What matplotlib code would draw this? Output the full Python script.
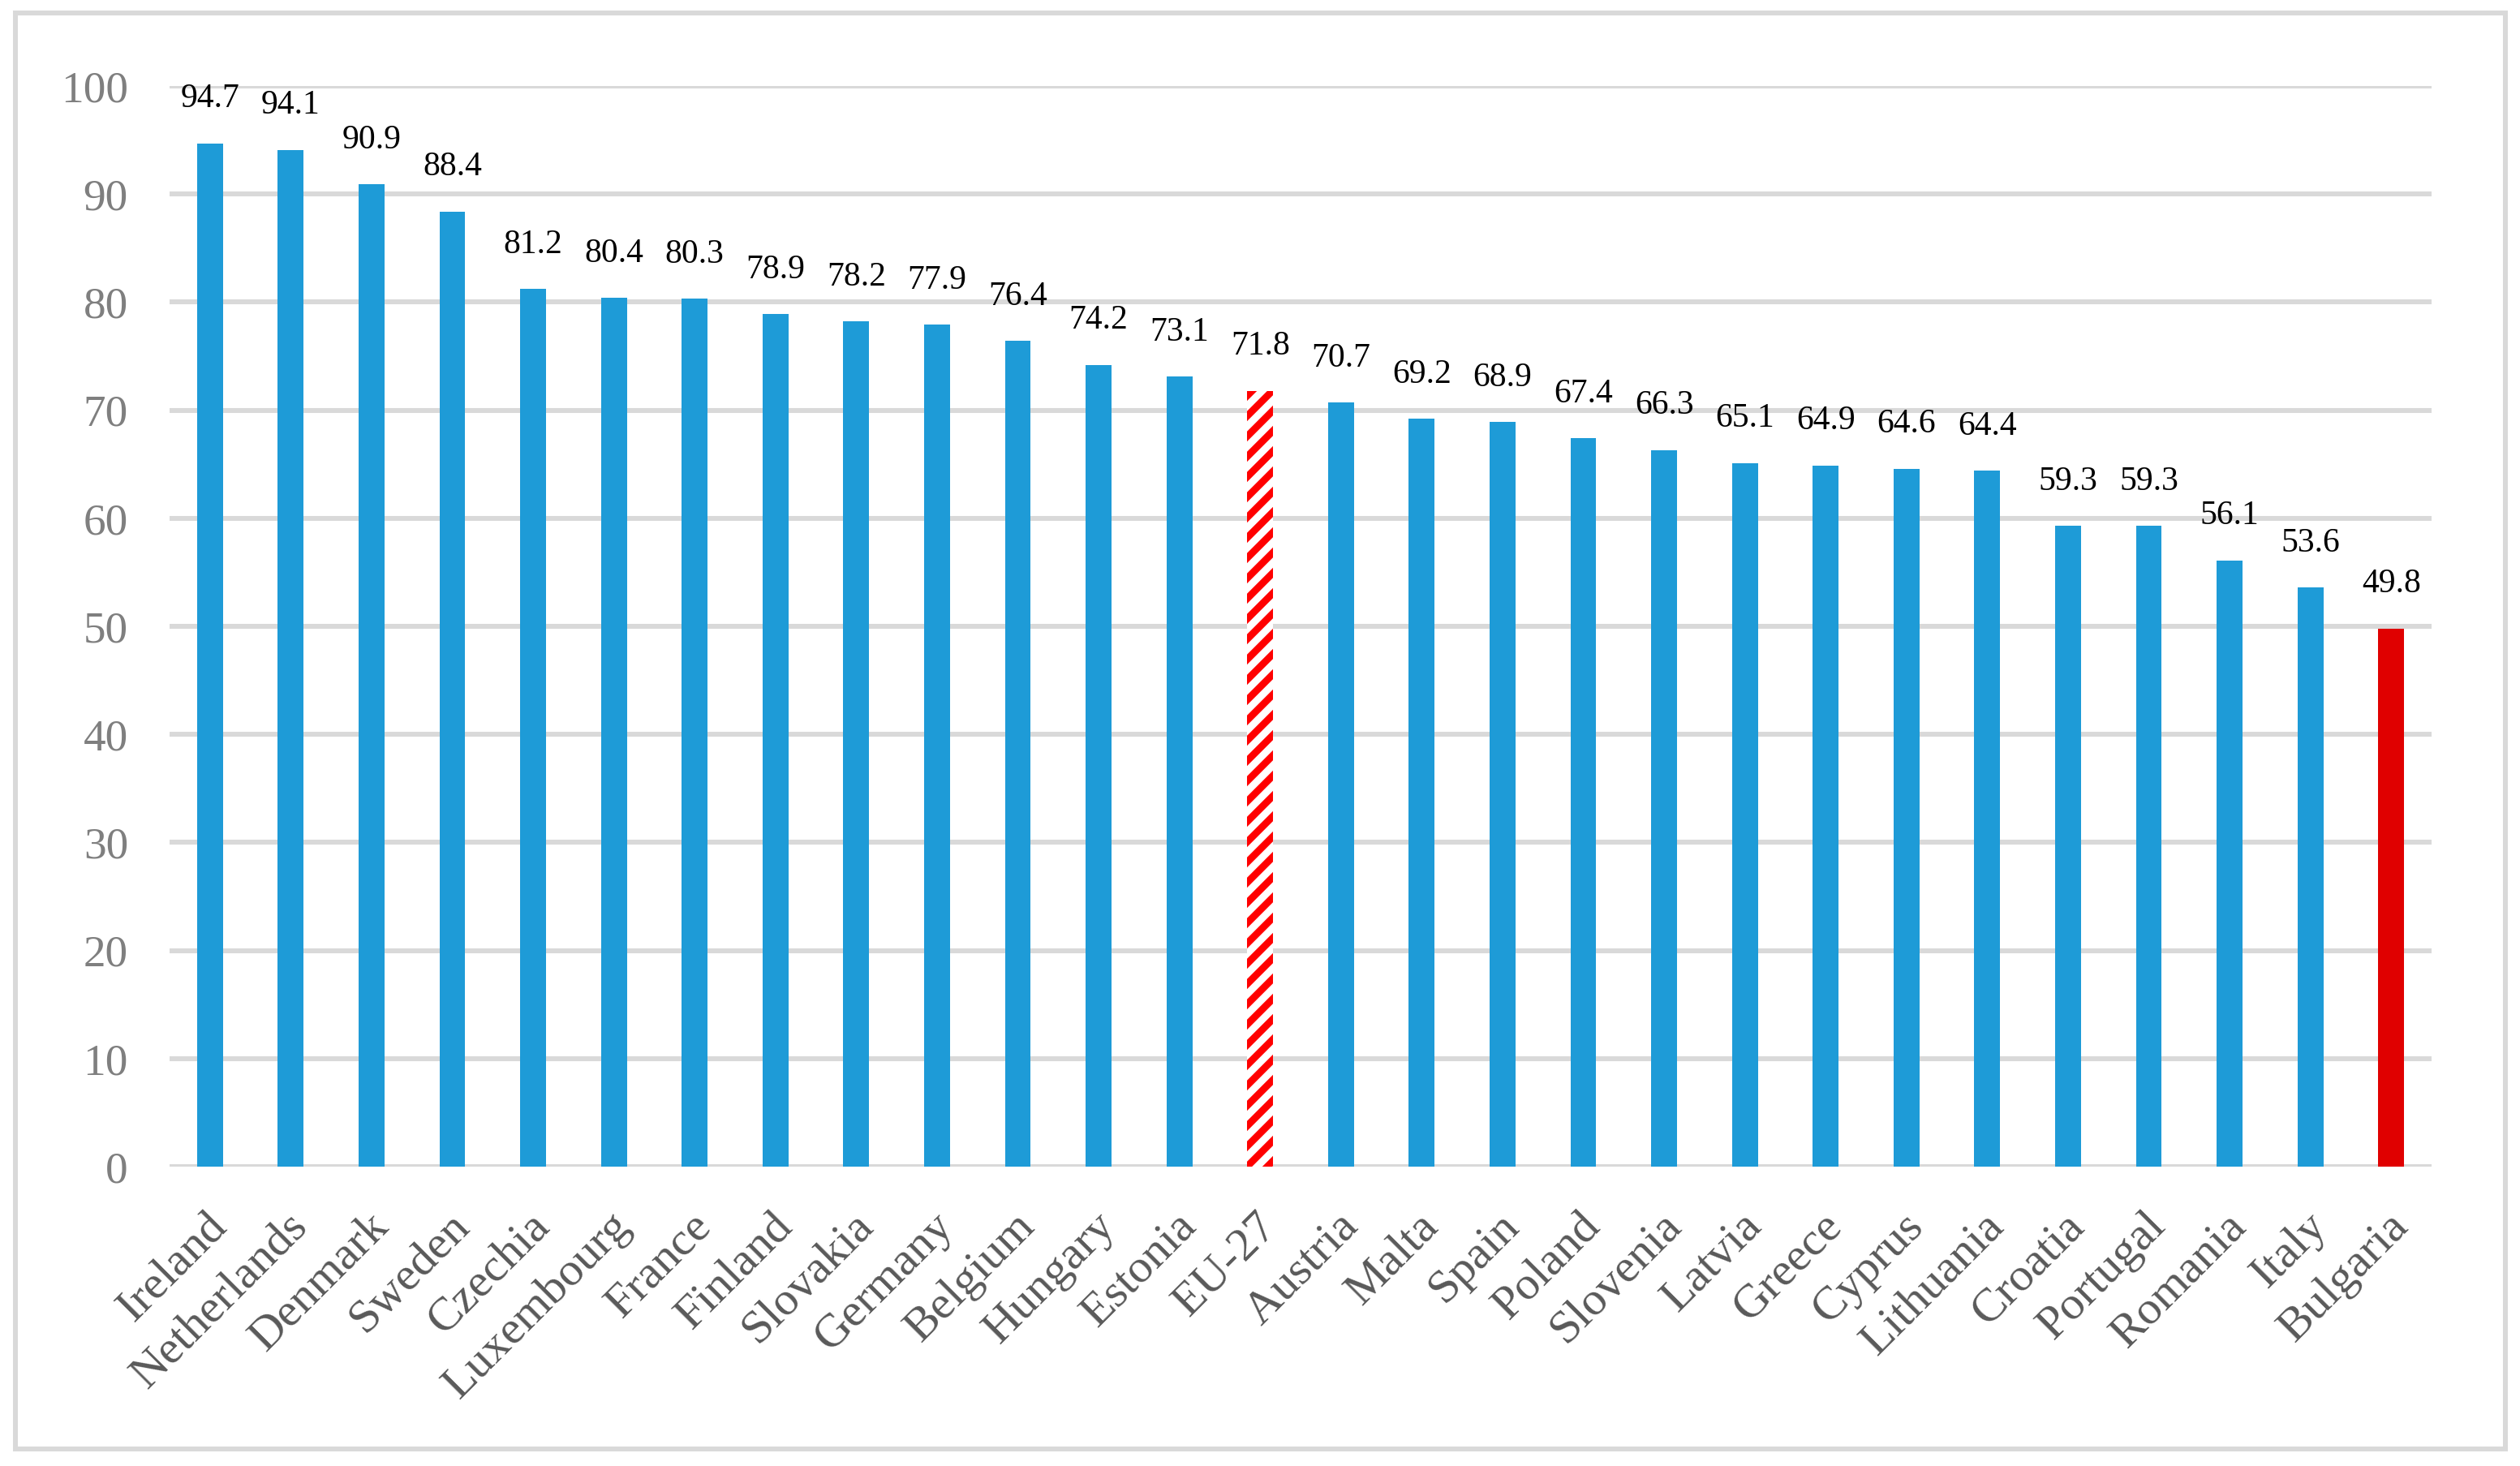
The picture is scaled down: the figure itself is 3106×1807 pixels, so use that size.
import matplotlib.pyplot as plt
from matplotlib.patches import Rectangle
from matplotlib.transforms import ScaledTranslation

# Données
pays = ["Ireland", "Netherlands", "Denmark", "Sweden", "Czechia", "Luxembourg",
        "France", "Finland", "Slovakia", "Germany", "Belgium", "Hungary",
        "Estonia", "EU-27", "Austria", "Malta", "Spain", "Poland", "Slovenia",
        "Latvia", "Greece", "Cyprus", "Lithuania", "Croatia", "Portugal",
        "Romania", "Italy", "Bulgaria"]
valeurs = [94.7, 94.1, 90.9, 88.4, 81.2, 80.4, 80.3, 78.9, 78.2, 77.9, 76.4,
           74.2, 73.1, 71.8, 70.7, 69.2, 68.9, 67.4, 66.3, 65.1, 64.9, 64.6,
           64.4, 59.3, 59.3, 56.1, 53.6, 49.8]
yticks = list(range(0, 101, 10))

bleu = "#1E9BD7"
rouge = "#E00000"
gris = "#D9D9D9"

plt.rcParams["hatch.linewidth"] = 4.2

dpi = 150
fig = plt.figure(figsize=(3106 / dpi, 1807 / dpi), dpi=dpi)
ax = fig.add_axes([209 / 3106, 369 / 1807, (2997 - 209) / 3106, (1438 - 106) / 1807])

x = list(range(len(pays)))
barres = ax.bar(x, valeurs, width=0.32, color=bleu, zorder=3)
for b, p in zip(barres, pays):
    if p == "EU-27":
        b.set_facecolor("white")
        b.set_edgecolor("#FF0000")
        b.set_hatch("//")
        b.set_linewidth(0)
    elif p == "Bulgaria":
        b.set_facecolor(rouge)

# étiquettes de valeur
for xi, v in zip(x, valeurs):
    ax.annotate(f"{v:.1f}", (xi, v), xytext=(0, 17), textcoords="offset points",
                ha="center", va="bottom", fontsize=20, family="Liberation Serif",
                color="black")

ax.set_xlim(-0.5, len(pays) - 0.5)
ax.set_ylim(0, 100)
ax.set_yticks(yticks)
ax.set_yticklabels([str(t) for t in yticks], family="Liberation Serif",
                   fontsize=26.5, color="#7F7F7F")
ax.tick_params(axis="y", length=0, pad=24.5)
ax.grid(axis="y", color=gris, linewidth=2.9, zorder=0)
ax.set_axisbelow(True)
for s in ax.spines.values():
    s.set_visible(False)

ax.set_xticks(x)
ax.set_xticklabels(pays, rotation=45, ha="right", va="top", rotation_mode="anchor",
                   family="Liberation Serif", fontsize=28, color="#595959")
ax.tick_params(axis="x", length=0, pad=22.5)
decalage = ScaledTranslation(-6 / dpi, 0, fig.dpi_scale_trans)
for lab in ax.get_xticklabels():
    lab.set_transform(lab.get_transform() + decalage)

# cadre extérieur
fig.patches.append(Rectangle((18.5 / 3106, 1 - 1786 / 1807), (3088 - 18.5) / 3106,
                             (1786 - 16) / 1807, transform=fig.transFigure,
                             fill=False, edgecolor=gris, linewidth=2.9))

fig.savefig("out.png", dpi=dpi)
